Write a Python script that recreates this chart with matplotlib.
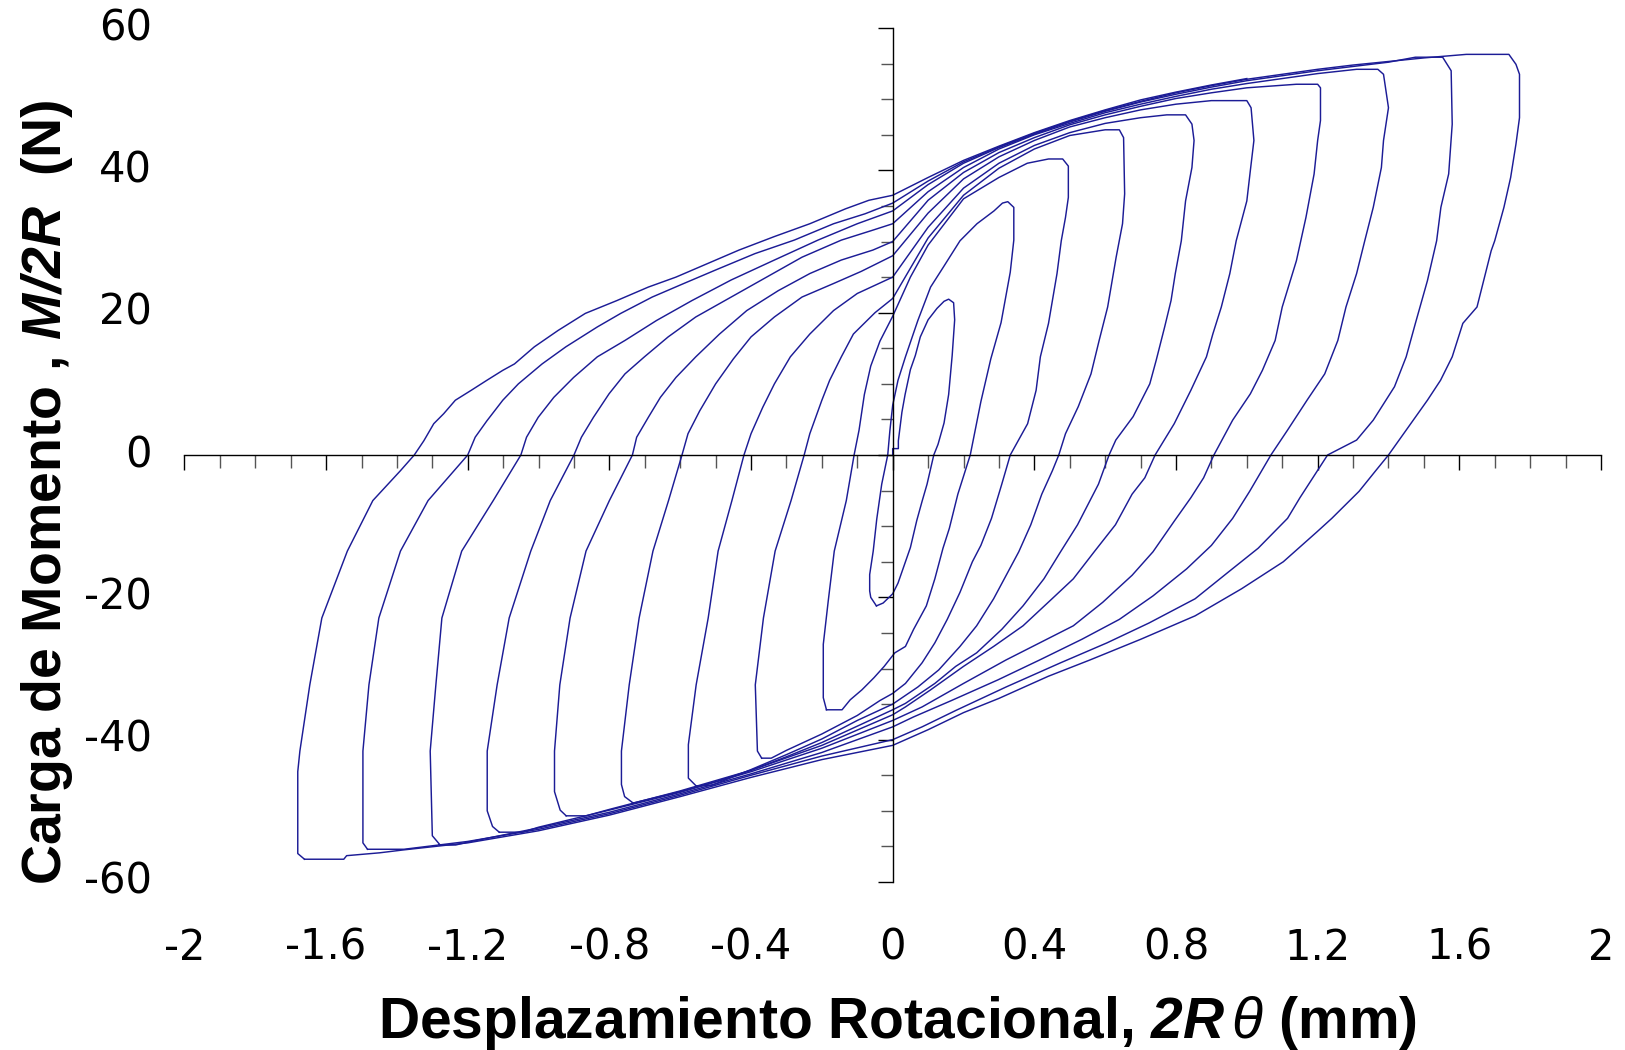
import numpy as np
import matplotlib.pyplot as plt
from matplotlib.ticker import MultipleLocator

plt.rcParams['mathtext.fontset'] = 'custom'
plt.rcParams['mathtext.it'] = 'Liberation Sans:italic'
plt.rcParams['mathtext.bfit'] = 'Liberation Sans:italic:bold'
plt.rcParams['mathtext.bf'] = 'Liberation Sans:bold'
plt.rcParams['mathtext.rm'] = 'Liberation Sans'

# Hysteresis cycles (x in mm, y in N)
cycle1_x = [0.0, 0.0, 0.016, 0.016, 0.026, 0.035, 0.05, 0.064, 0.078, 0.1, 0.125, 0.145, 0.158, 0.172, 0.175, 0.168, 0.158, 0.145, 0.128, 0.116, 0.097, 0.083, 0.068, 0.05, 0.036, 0.015, 0.0, -0.027, -0.046]
cycle1_y = [0.0, 0.9, 0.9, 2.0, 6.0, 8.5, 12.0, 14.0, 16.6, 19.0, 20.6, 21.6, 21.9, 21.4, 19.0, 14.0, 8.5, 4.5, 1.5, 0.0, -4.1, -6.5, -9.2, -13.0, -15.0, -18.0, -19.5, -20.8, -21.2]

cycle2_x = [-0.046, -0.062, -0.065, -0.065, -0.055, -0.045, -0.031, -0.014, -0.008, 0.0, 0.015, 0.036, 0.071, 0.107, 0.143, 0.19, 0.238, 0.286, 0.31, 0.325, 0.342, 0.342, 0.332, 0.306, 0.277, 0.249, 0.219, 0.184, 0.16, 0.142, 0.119, 0.095, 0.059, 0.036, 0.006, -0.024, -0.053, -0.087, -0.12, -0.143, -0.187]
cycle2_y = [-21.2, -20.0, -19.1, -16.8, -13.5, -9.0, -4.1, 0.0, 3.4, 7.0, 10.5, 13.8, 18.9, 23.6, 26.4, 30.1, 32.5, 34.3, 35.4, 35.6, 34.8, 30.2, 25.7, 18.6, 13.5, 7.5, 0.0, -5.5, -10.3, -13.1, -17.4, -21.2, -24.5, -26.9, -27.8, -29.7, -31.3, -33.0, -34.4, -35.8, -35.8]

cycle3_x = [-0.187, -0.196, -0.196, -0.182, -0.165, -0.131, -0.109, -0.095, -0.08, -0.062, -0.036, 0.0, 0.05, 0.1, 0.2, 0.3, 0.38, 0.44, 0.48, 0.496, 0.496, 0.488, 0.476, 0.464, 0.44, 0.417, 0.405, 0.381, 0.332, 0.308, 0.279, 0.249, 0.225, 0.19, 0.154, 0.119, 0.083, 0.036, 0.0, -0.036, -0.1, -0.2, -0.3, -0.343, -0.37]
cycle3_y = [-35.8, -34.1, -26.6, -20.5, -13.5, -6.4, 0.0, 3.5, 8.5, 12.5, 16.0, 19.5, 25.0, 29.5, 36.0, 39.0, 41.0, 41.6, 41.6, 40.6, 36.2, 33.4, 30.1, 25.5, 18.5, 13.8, 9.1, 4.4, 0.0, -4.1, -8.9, -12.7, -15.0, -19.3, -23.1, -26.4, -29.2, -32.1, -33.5, -34.5, -36.6, -39.2, -41.5, -42.6, -42.6]

cycle4_x = [-0.37, -0.382, -0.388, -0.365, -0.332, -0.287, -0.25, -0.234, -0.2, -0.178, -0.145, -0.111, -0.05, 0.0, 0.1, 0.2, 0.3, 0.4, 0.5, 0.6, 0.64, 0.652, 0.655, 0.649, 0.631, 0.607, 0.583, 0.56, 0.524, 0.488, 0.469, 0.451, 0.421, 0.39, 0.356, 0.285, 0.237, 0.19, 0.13, 0.071, 0.0, -0.1, -0.2, -0.3, -0.4, -0.51, -0.555]
cycle4_y = [-42.6, -41.6, -32.3, -22.9, -13.5, -6.4, 0.0, 3.0, 7.7, 10.5, 13.8, 17.0, 20.0, 22.0, 30.5, 36.5, 40.3, 43.0, 44.9, 45.7, 45.7, 44.6, 36.7, 32.5, 27.8, 20.8, 16.1, 11.4, 6.8, 3.0, 0.0, -2.2, -5.5, -9.8, -13.6, -20.2, -24.0, -26.9, -30.2, -32.6, -35.0, -37.3, -39.9, -42.1, -44.2, -46.4, -46.5]

cycle5_x = [-0.555, -0.577, -0.577, -0.555, -0.521, -0.493, -0.454, -0.42, -0.4, -0.367, -0.334, -0.289, -0.234, -0.167, -0.1, 0.0, 0.1, 0.2, 0.3, 0.4, 0.5, 0.6, 0.7, 0.774, 0.827, 0.845, 0.851, 0.845, 0.827, 0.815, 0.798, 0.786, 0.768, 0.744, 0.726, 0.679, 0.63, 0.611, 0.581, 0.522, 0.474, 0.427, 0.368, 0.308, 0.237, 0.178, 0.119, 0.036, 0.0, -0.1, -0.2, -0.3, -0.4, -0.5, -0.6, -0.7, -0.733]
cycle5_y = [-46.5, -45.4, -40.7, -32.3, -22.9, -13.5, -6.4, 0.0, 3.0, 6.7, 10.0, 13.8, 17.0, 20.3, 22.7, 25.0, 32.0, 37.5, 41.0, 43.5, 45.3, 46.6, 47.4, 47.8, 47.8, 46.5, 44.2, 40.4, 35.7, 30.1, 25.5, 21.7, 18.0, 13.3, 10.0, 5.4, 2.1, 0.0, -4.1, -9.8, -13.6, -17.4, -21.2, -24.5, -27.8, -29.7, -32.1, -34.9, -35.8, -38.1, -40.4, -42.4, -44.3, -45.9, -47.3, -48.5, -48.9]

cycle6_x = [-0.733, -0.757, -0.766, -0.766, -0.744, -0.716, -0.677, -0.633, -0.595, -0.578, -0.545, -0.5, -0.45, -0.4, -0.334, -0.256, -0.167, -0.089, 0.0, 0.1, 0.2, 0.3, 0.4, 0.5, 0.6, 0.7, 0.8, 0.9, 0.952, 1.0, 1.012, 1.02, 1.01, 1.0, 0.97, 0.952, 0.928, 0.904, 0.886, 0.842, 0.795, 0.741, 0.712, 0.676, 0.629, 0.569, 0.51, 0.45, 0.368, 0.285, 0.2, 0.107, 0.036, 0.0, -0.2, -0.4, -0.6, -0.8, -0.866, -0.922]
cycle6_y = [-48.9, -48.0, -46.3, -41.6, -32.3, -22.9, -13.5, -6.4, 0.0, 3.0, 6.2, 10.0, 13.5, 16.6, 19.4, 22.2, 24.1, 25.8, 28.0, 34.0, 38.8, 41.9, 44.2, 46.1, 47.4, 48.5, 49.3, 49.8, 49.8, 49.8, 48.8, 44.2, 40.0, 35.7, 30.1, 25.5, 20.8, 17.0, 13.8, 9.1, 4.4, 0.0, -3.2, -5.5, -9.8, -13.6, -17.4, -20.2, -24.0, -26.9, -29.7, -33.0, -35.4, -36.5, -40.8, -44.3, -47.2, -49.8, -50.7, -50.7]

cycle7_x = [-0.922, -0.939, -0.955, -0.955, -0.94, -0.911, -0.866, -0.8, -0.735, -0.723, -0.69, -0.656, -0.612, -0.556, -0.489, -0.412, -0.323, -0.234, -0.145, -0.056, 0.0, 0.1, 0.2, 0.3, 0.4, 0.5, 0.6, 0.7, 0.8, 0.9, 1.0, 1.14, 1.2, 1.208, 1.208, 1.2, 1.19, 1.167, 1.14, 1.1, 1.08, 1.044, 1.01, 0.96, 0.907, 0.878, 0.842, 0.795, 0.735, 0.676, 0.593, 0.51, 0.415, 0.32, 0.2, 0.083, 0.0, -0.2, -0.4, -0.6, -0.8, -1.0, -1.045, -1.111]
cycle7_y = [-50.7, -49.9, -47.3, -41.6, -32.3, -22.9, -13.5, -6.4, 0.0, 2.5, 5.3, 8.1, 10.9, 13.8, 17.0, 20.3, 23.1, 25.5, 27.4, 28.8, 30.0, 35.8, 39.7, 42.5, 44.6, 46.4, 47.8, 49.0, 50.1, 50.9, 51.6, 52.1, 52.1, 51.6, 47.0, 44.2, 39.5, 33.4, 27.3, 20.8, 16.1, 11.9, 8.6, 4.9, 0.0, -3.2, -6.0, -9.3, -13.6, -16.9, -20.7, -24.0, -26.4, -28.8, -32.1, -35.4, -37.3, -41.2, -44.5, -47.4, -49.9, -52.3, -53.0, -53.0]

cycle8_x = [-1.111, -1.13, -1.145, -1.145, -1.117, -1.083, -1.022, -0.967, -0.9, -0.879, -0.845, -0.801, -0.756, -0.701, -0.634, -0.556, -0.456, -0.356, -0.256, -0.145, -0.056, 0.0, 0.1, 0.2, 0.3, 0.4, 0.5, 0.6, 0.7, 0.8, 0.9, 1.0, 1.1, 1.2, 1.31, 1.37, 1.386, 1.4, 1.386, 1.38, 1.357, 1.333, 1.31, 1.28, 1.257, 1.22, 1.17, 1.115, 1.068, 1.008, 0.96, 0.9, 0.83, 0.735, 0.64, 0.534, 0.415, 0.297, 0.166, 0.059, 0.0, -0.2, -0.4, -0.6, -0.8, -1.0, -1.2, -1.234, -1.278]
cycle8_y = [-53.0, -52.2, -50.0, -41.6, -32.3, -22.9, -13.5, -6.4, 0.0, 2.5, 5.3, 8.6, 11.4, 13.8, 16.6, 19.4, 22.2, 25.0, 27.8, 30.2, 31.6, 32.5, 37.0, 40.4, 43.0, 45.0, 46.6, 48.1, 49.3, 50.4, 51.4, 52.2, 52.9, 53.6, 54.2, 54.2, 53.5, 48.8, 44.2, 40.4, 34.8, 30.1, 25.5, 20.8, 16.1, 11.4, 7.7, 3.5, 0.0, -5.1, -8.9, -12.7, -16.0, -19.8, -23.1, -25.9, -28.8, -31.6, -34.5, -36.8, -38.2, -41.8, -44.8, -47.6, -50.2, -52.4, -54.4, -54.8, -54.8]

cycle9_x = [-1.278, -1.3, -1.306, -1.29, -1.273, -1.217, -1.128, -1.05, -1.034, -1.001, -0.957, -0.901, -0.834, -0.756, -0.667, -0.567, -0.456, -0.334, -0.211, -0.1, 0.0, 0.1, 0.2, 0.3, 0.4, 0.5, 0.6, 0.7, 0.8, 0.9, 1.0, 1.1, 1.2, 1.3, 1.4, 1.476, 1.553, 1.577, 1.58, 1.57, 1.548, 1.536, 1.51, 1.476, 1.45, 1.417, 1.357, 1.31, 1.228, 1.15, 1.115, 1.032, 0.949, 0.854, 0.724, 0.605, 0.474, 0.32, 0.178, 0.083, 0.0, -0.2, -0.4, -0.6, -0.8, -1.0, -1.2, -1.38, -1.483]
cycle9_y = [-54.8, -53.5, -41.6, -32.3, -22.9, -13.5, -6.4, 0.0, 2.5, 5.3, 8.1, 10.9, 13.8, 16.1, 18.9, 21.7, 24.6, 27.4, 30.2, 32.5, 34.3, 38.0, 41.0, 43.2, 45.1, 46.8, 48.3, 49.6, 50.7, 51.7, 52.6, 53.3, 54.0, 54.6, 55.2, 55.9, 55.9, 54.0, 46.5, 39.5, 34.8, 30.1, 24.5, 18.5, 13.8, 9.6, 4.9, 2.1, 0.0, -6.0, -8.9, -13.1, -16.4, -20.2, -23.6, -26.4, -29.2, -32.6, -35.9, -38.2, -40.0, -42.3, -45.0, -47.8, -50.4, -52.6, -54.3, -55.4, -55.4]

cycle10_x = [-1.483, -1.496, -1.496, -1.479, -1.451, -1.39, -1.312, -1.2, -1.179, -1.146, -1.101, -1.057, -0.99, -0.923, -0.834, -0.768, -0.679, -0.59, -0.5, -0.389, -0.278, -0.167, -0.078, 0.0, 0.1, 0.2, 0.3, 0.4, 0.5, 0.6, 0.7, 0.8, 0.9, 1.0, 1.1, 1.2, 1.3, 1.4, 1.5, 1.62, 1.74, 1.76, 1.77, 1.77, 1.76, 1.745, 1.726, 1.7, 1.69, 1.65, 1.61, 1.58, 1.547, 1.51, 1.45, 1.4, 1.364, 1.317, 1.24, 1.198, 1.103, 0.985, 0.854, 0.7, 0.557, 0.439, 0.3, 0.2, 0.1, 0.0, -0.2, -0.4, -0.6, -0.8, -1.0, -1.2, -1.383, -1.449, -1.542, -1.55, -1.661]
cycle10_y = [-55.4, -54.5, -41.6, -32.3, -22.9, -13.5, -6.4, 0.0, 2.5, 4.8, 7.7, 10.0, 12.8, 15.2, 18.0, 19.9, 22.2, 24.1, 26.0, 28.3, 30.2, 32.5, 33.9, 35.4, 38.5, 41.2, 43.3, 45.2, 46.9, 48.4, 49.7, 50.9, 51.9, 52.8, 53.5, 54.2, 54.8, 55.3, 55.8, 56.3, 56.3, 54.9, 53.5, 47.4, 43.7, 39.0, 34.8, 30.1, 28.7, 20.8, 18.5, 13.8, 10.5, 7.7, 3.5, 0.0, -2.2, -5.1, -8.9, -10.8, -15.0, -18.8, -22.6, -25.9, -28.8, -31.1, -34.2, -36.2, -38.6, -40.8, -42.8, -45.3, -48.0, -50.6, -52.8, -54.5, -55.5, -55.9, -56.3, -56.8, -56.8]

final_x = [-1.661, -1.68, -1.68, -1.674, -1.646, -1.612, -1.54, -1.468, -1.39, -1.351, -1.324, -1.296, -1.268, -1.235, -1.19, -1.146, -1.101, -1.068, -1.012, -0.945, -0.868, -0.779, -0.69, -0.612, -0.523, -0.434, -0.334, -0.234, -0.133, -0.067, 0.0, 0.1, 0.2, 0.3, 0.4, 0.5, 0.6, 0.7, 0.8, 0.9, 1.0]
final_y = [-56.8, -56.0, -44.5, -41.6, -32.3, -22.9, -13.5, -6.4, -2.2, 0.0, 2.0, 4.4, 5.8, 7.7, 9.1, 10.5, 11.9, 12.8, 15.2, 17.5, 19.9, 21.7, 23.6, 25.0, 26.9, 28.8, 30.7, 32.5, 34.6, 35.8, 36.5, 39.0, 41.4, 43.4, 45.3, 47.0, 48.5, 49.9, 51.0, 52.0, 52.9]

x_ticks = [-2, -1.6, -1.2, -0.8, -0.4, 0, 0.4, 0.8, 1.2, 1.6, 2]
x_labels = ['-2', '-1.6', '-1.2', '-0.8', '-0.4', '0', '0.4', '0.8', '1.2', '1.6', '2']
y_ticks = [-60, -40, -20, 0, 20, 40, 60]
y_labels = ['-60', '-40', '-20', '0', '20', '40', '60']

cycles = [(cycle1_x, cycle1_y), (cycle2_x, cycle2_y), (cycle3_x, cycle3_y),
          (cycle4_x, cycle4_y), (cycle5_x, cycle5_y), (cycle6_x, cycle6_y),
          (cycle7_x, cycle7_y), (cycle8_x, cycle8_y), (cycle9_x, cycle9_y),
          (cycle10_x, cycle10_y), (final_x, final_y)]

fig = plt.figure(figsize=(16.25, 10.5), dpi=100)
ax = fig.add_axes([0.1135, 0.16, 0.8717, 0.8133])

for xs, ys in cycles:
    ax.plot(xs, ys, color='#1c1c96', lw=1.05)

ax.set_xlim(-2, 2)
ax.set_ylim(-60, 60)

# axes cross at the origin
ax.spines['left'].set_position(('data', 0))
ax.spines['bottom'].set_position(('data', 0))
ax.spines['top'].set_visible(False)
ax.spines['right'].set_visible(False)
for s in ['left', 'bottom']:
    ax.spines[s].set_linewidth(1.0)

ax.set_xticks(x_ticks)
ax.set_yticks(y_ticks)
ax.xaxis.set_minor_locator(MultipleLocator(0.1))
ax.yaxis.set_minor_locator(MultipleLocator(5))
ax.tick_params(which='major', direction='out', length=11, width=1.0,
               labelbottom=False, labelleft=False)
ax.tick_params(which='minor', direction='out', length=9, width=1.0, color='#555555')

# tick labels sit at the frame edges, not on the axes
for v, lab in zip(x_ticks, x_labels):
    ax.text(v, -0.077, lab, transform=ax.get_xaxis_transform(),
            ha='center', va='center', fontsize=30, family='DejaVu Sans')
for v, lab in zip(y_ticks, y_labels):
    ax.text(-0.023, v, lab, transform=ax.get_yaxis_transform(),
            ha='right', va='center', fontsize=30, family='DejaVu Sans')

fig.text(0.552, 0.011, r'Desplazamiento Rotacional, $\mathbfit{2R}\,\mathit{\theta}$ (mm)',
         ha='center', va='baseline', fontsize=41, fontweight='bold',
         family='Liberation Sans')
fig.text(0.029, 0.531, r'Carga de Momento , $\mathbfit{M/2R}$  (N)',
         ha='center', va='center', rotation=90, fontsize=40, fontweight='bold',
         family='Liberation Sans')

fig.savefig('out.png', dpi=100)
